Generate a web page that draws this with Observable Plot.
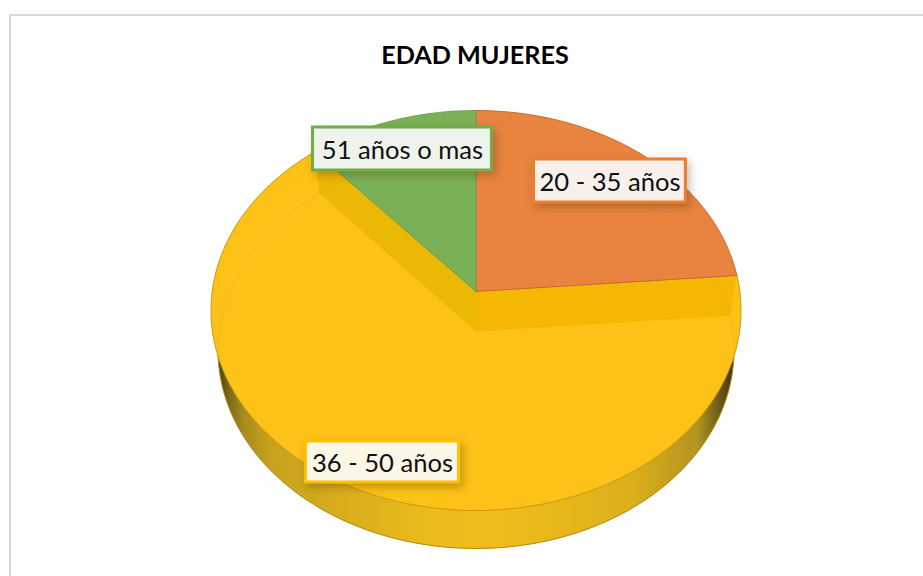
<!DOCTYPE html>
<html lang="es">
<head>
<meta charset="utf-8">
<title>EDAD MUJERES</title>
<script src="https://cdn.jsdelivr.net/npm/d3@7"></script>
<script src="https://cdn.jsdelivr.net/npm/@observablehq/plot@0.6"></script>
<style>
  html, body { margin: 0; padding: 0; background: #fff; overflow: hidden; }
  #page { position: relative; width: 923px; height: 576px; overflow: hidden; }
  #frame { position: absolute; left: 9px; top: 14px; width: 930px; height: 600px; border: 2px solid #d9d9d9; box-sizing: border-box; }
  #title { position: relative; height: 100px; margin: 0; padding-top: 38px; box-sizing: border-box; text-align: center;
           font: 700 25.2px/32px Lato, sans-serif; color: #000; width: 950px; }
  #chart svg { display: block; position: relative; }
</style>
</head>
<body>
<div id="page">
  <div id="frame"></div>
  <div id="title">EDAD MUJERES</div>
  <div id="chart"></div>
</div>
<script>
const categories = ["20 - 35 años", "36 - 50 años", "51 años o mas"];
const shares = [22.2, 67.4, 10.4];
const fills = ["#e8843f", "#fcc217", "#7bb156"];
const edges = ["#c8692c", "#c99a12", "#6f9f4c"];
const labelBorders = ["#ed7d31", "#ffc000", "#70ad47"];
const labelFills = ["#f8f0ea", "#fcf6e6", "#eef3ec"];

// Label boxes, in the pie's unit coordinates
const labelBoxes = [
  {x1: 0.219, x2: 0.792, y1: 0.54, y2: 0.755},
  {x1: -0.642, x2: -0.064, y1: -0.86, y2: -0.655},
  {x1: -0.615, x2: 0.06, y1: 0.70, y2: 0.915}
];

// Perspective of the disc, in unit coordinates
const topDisk = {rx: 1, ry: 1, cy: 0};
const lowDisk = {rx: 0.9736, ry: 0.99, cy: -0.2};
const apexTop = {x: 0, y: 0.095};
const apexLow = {x: 0, y: -0.105};

const total = d3.sum(shares);
const stops = d3.cumsum(shares).map(v => v / total * 360);
const starts = [0, ...stops.slice(0, -1)];
const rim = (deg, d) => {
  const a = deg * Math.PI / 180;
  return {x: d.rx * Math.sin(a), y: d.cy + d.ry * Math.cos(a)};
};
const arc = (a0, a1, d) => d3.range(0, 181).map(i => rim(a0 + (a1 - a0) * i / 180, d));
const wedge = i => {
  const pts = [apexTop, ...arc(starts[i], stops[i], topDisk), apexTop];
  return pts;
};
const wall = deg => [apexTop, rim(deg, topDisk), rim(deg, lowDisk), apexLow, apexTop];

const defs = () => {
  const ns = "http://www.w3.org/2000/svg";
  const d = document.createElementNS(ns, "defs");
  const g = document.createElementNS(ns, "linearGradient");
  g.setAttribute("id", "wallShade");
  g.setAttribute("x1", "0"); g.setAttribute("x2", "1"); g.setAttribute("y1", "0"); g.setAttribute("y2", "0");
  [[0, "#4a3c10"], [0.02, "#7a6616"], [0.05, "#a88c1c"], [0.1, "#c8a21e"], [0.4, "#ebbb1c"],
   [0.55, "#f0bc1a"], [0.8, "#dcb01c"], [0.93, "#b2941f"], [0.98, "#5e4e14"], [1, "#3d3210"]].forEach(([o, c]) => {
    const s = document.createElementNS(ns, "stop");
    s.setAttribute("offset", o); s.setAttribute("stop-color", c);
    g.appendChild(s);
  });
  d.appendChild(g);
  return d;
};

const line = (pts, o) => Plot.line(pts, {x: "x", y: "y", ...o});
const fullLow = arc(0, 360, lowDisk);

const plot = Plot.plot({
  width: 923,
  height: 476,
  margin: 0,
  axis: null,
  style: {background: "transparent", fontFamily: "Lato, sans-serif", overflow: "visible"},
  x: {domain: [-1, 1], range: [210.5, 740.5]},
  y: {domain: [-1, 1], range: [410, 10]},
  marks: [
    defs,
    line(fullLow, {fill: "url(#wallShade)", stroke: "#b48c12", strokeWidth: 1}),
    line(wedge(1), {fill: fills[1], stroke: edges[1], strokeWidth: 1}),
    line(wall(stops[0]), {fill: "#f6b704", stroke: "none"}),
    line(wall(stops[1]), {fill: "#ecb806", stroke: "none"}),
    line(wedge(0), {fill: fills[0], stroke: edges[0], strokeWidth: 1}),
    line(wedge(2), {fill: fills[2], stroke: edges[2], strokeWidth: 1}),
    line(fullLow, {stroke: "#b8860b", strokeOpacity: 0.16, strokeWidth: 1}),
    Plot.rect(labelBoxes, {
      x1: "x1", x2: "x2", y1: "y1", y2: "y2",
      fill: (d, i) => labelFills[i],
      stroke: (d, i) => labelBorders[i],
      strokeWidth: 3,
      imageFilter: "drop-shadow(3px 4px 4px rgba(60,40,0,0.3))"
    }),
    Plot.text(labelBoxes, {
      x: d => (d.x1 + d.x2) / 2,
      y: d => (d.y1 + d.y2) / 2,
      text: (d, i) => categories[i],
      fontSize: 25.6,
      dy: 2,
      fill: "#111",
      textAnchor: "middle",
      lineAnchor: "middle"
    })
  ]
});
document.getElementById("chart").appendChild(plot);
</script>
</body>
</html>
